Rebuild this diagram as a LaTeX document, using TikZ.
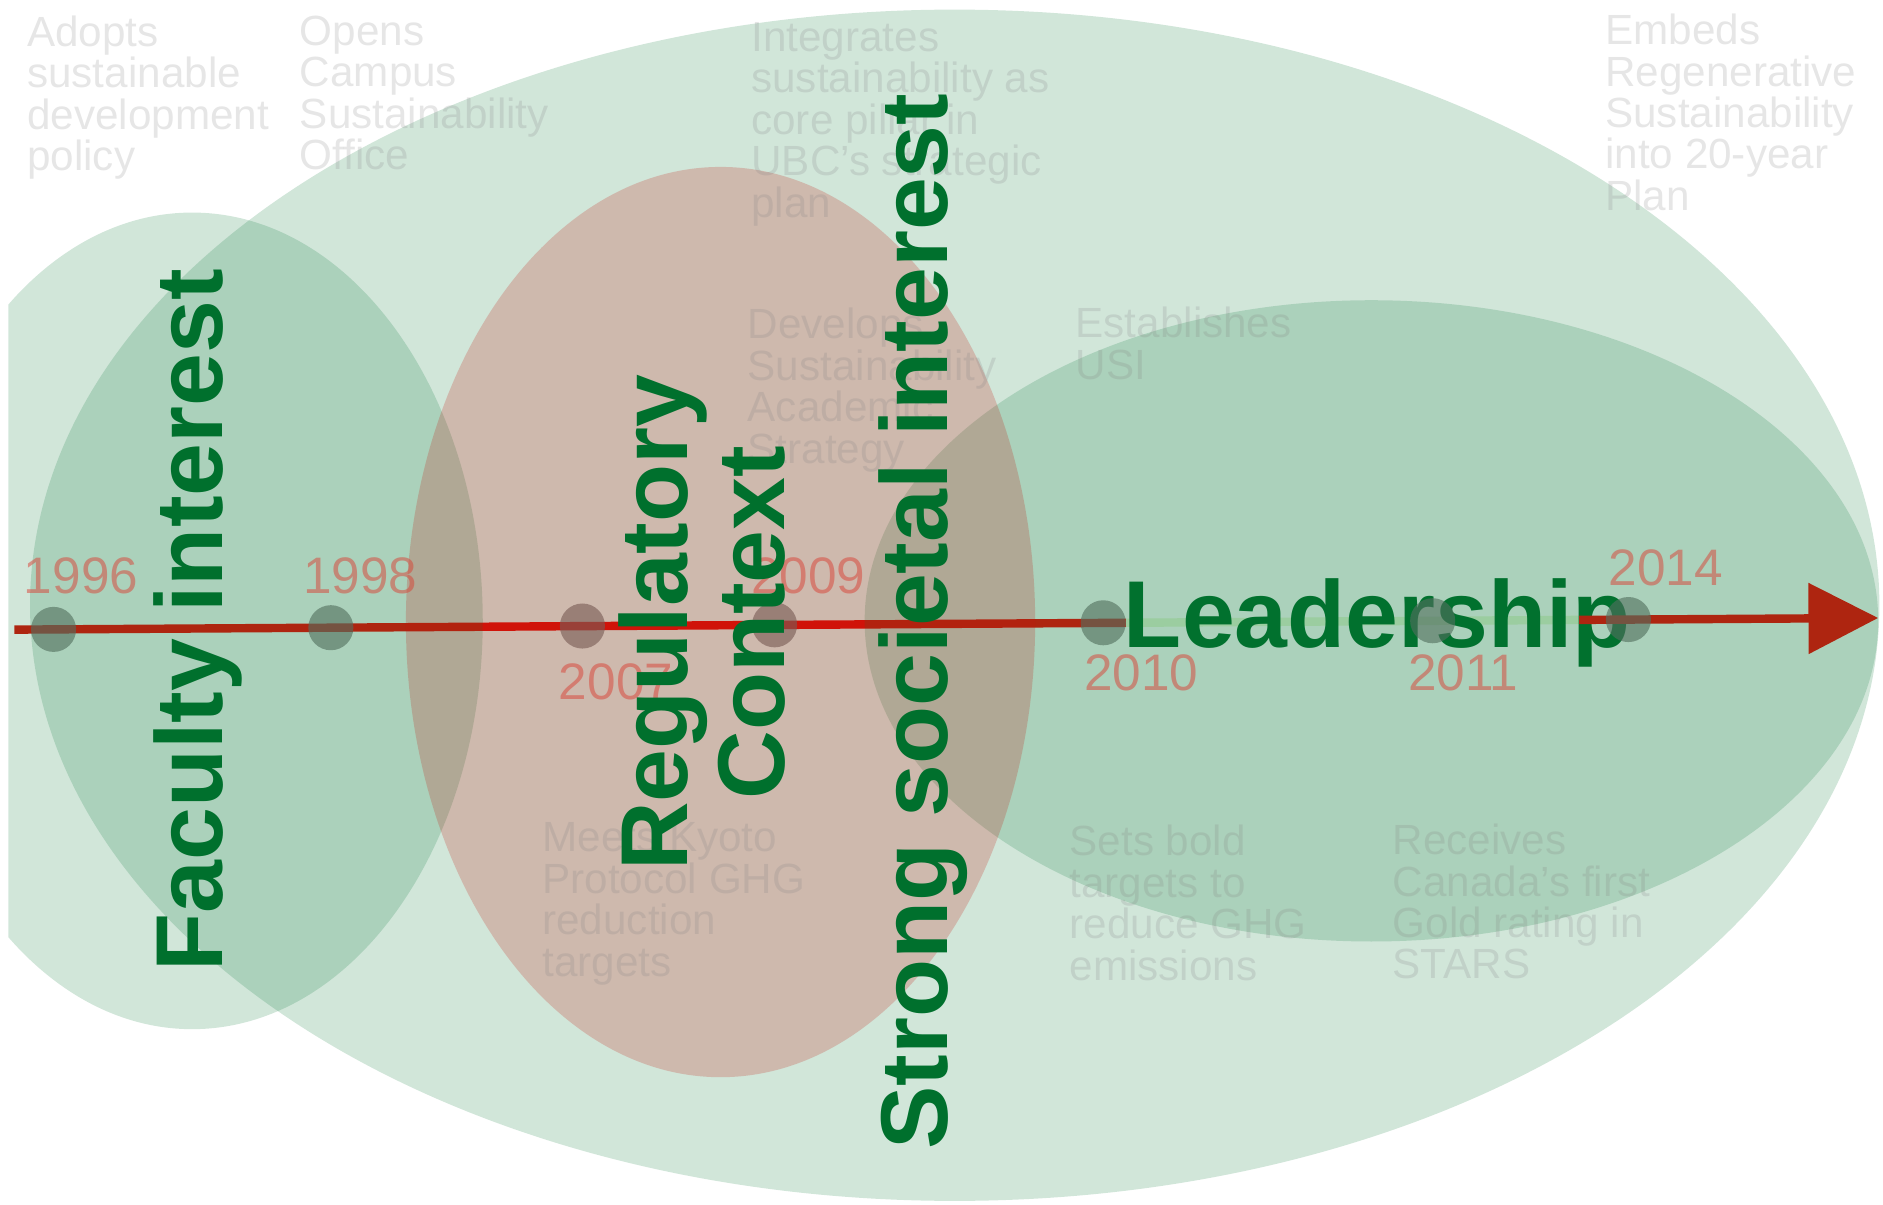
\documentclass[tikz,border=0pt]{standalone}
\usepackage{fontspec}
\setmainfont{Liberation Sans}
\usetikzlibrary{arrows.meta}
\definecolor{zonegreen}{RGB}{10,120,55}
\definecolor{zonered}{RGB}{194,25,14}
\definecolor{linered}{RGB}{213,18,8}
\definecolor{barlight}{RGB}{189,225,185}
\definecolor{dotgray}{RGB}{100,110,105}
\definecolor{labelgreen}{RGB}{0,112,45}
\definecolor{yearred}{RGB}{217,64,52}
\definecolor{eventgray}{RGB}{128,128,128}
\begin{document}
\begin{tikzpicture}[x=0.01cm, y=-0.01cm,
  greenzone/.style={fill=zonegreen, fill opacity=0.19},
  redzone/.style={fill=zonered, fill opacity=0.22},
  timeline/.style={draw=linered, line width=0.07cm},
  greenbar/.style={draw=barlight, line width=0.07cm},
  yeardot/.style={circle, fill=dotgray, fill opacity=0.62, minimum size=0.375cm, inner sep=0pt, outer sep=0pt},
  yearlabel/.style={text=yearred, text opacity=0.5, font=\fontsize{12.15}{14}\selectfont, inner sep=0pt},
  eventtext/.style={text=eventgray, text opacity=0.2, font=\fontsize{10}{9.8}\selectfont, align=left, anchor=north west, inner sep=0pt},
  factor/.style={text=labelgreen, font=\bfseries\fontsize{22.5}{22.8}\selectfont, inner sep=0pt, align=center},
]
\useasboundingbox (0,0) rectangle (1568,1003);
\begin{scope}
\clip (7,0) rectangle (1568,1003);
% outer zone
\fill[greenzone] (795,504) ellipse [x radius=770, y radius=496];
% timeline coordinates
\coordinate (tstart) at (12,524.3);
\coordinate (c1996) at (44.6,524.1);
\coordinate (c1998) at (275.5,522.7);
\coordinate (c2007) at (485,521.3);
\coordinate (c2009) at (645,520.3);
\coordinate (c2010) at (918.7,518.6);
\coordinate (c2011) at (1193,516.9);
\coordinate (c2014) at (1356,515.9);
\coordinate (gend) at (1315,516.2);
\coordinate (ttip) at (1564,514.6);
% timeline
\draw[timeline] (tstart) -- ([xshift=0.1875cm]c2010);
\draw[greenbar] ([xshift=0.1875cm]c2010) -- (gend);
\node[factor] (leadership) at (1147,519) {Leadership};
\draw[timeline, -{Triangle[length=0.58cm, width=0.575cm]}] (gend) -- (ttip);
% dots
\node[yeardot] (d1996) at (c1996) {};
\node[yeardot] (d1998) at (c1998) {};
\node[yeardot] (d2007) at (c2007) {};
\node[yeardot] (d2009) at (c2009) {};
\node[yeardot] (d2010) at (c2010) {};
\node[yeardot] (d2011) at (c2011) {};
\node[yeardot] (d2014) at (c2014) {};
% inner zones
\fill[greenzone] (160,517) ellipse [x radius=242, y radius=340];
\fill[greenzone] (1142,517) ellipse [x radius=422, y radius=267];
\fill[redzone] (600,518) ellipse [x radius=262, y radius=379];
% event texts
\node[eventtext] (e1996) at (22,12.5) {Adopts\\sustainable\\development\\policy};
\node[eventtext] (e1998) at (249,12.5) {Opens\\Campus\\Sustainability\\Office};
\node[eventtext] (e2009a) at (625,18) {Integrates\\sustainability as\\core pillar in\\UBC’s strategic\\plan};
\node[eventtext] (e2014) at (1336,11) {Embeds\\Regenerative\\Sustainability\\into 20-year\\Plan};
\node[eventtext] (e2009b) at (622,256) {Develops\\Sustainability\\Academic\\Strategy};
\node[eventtext] (e2010a) at (895,255) {Establishes\\USI};
\node[eventtext] (e2007) at (451,684.5) {Meets Kyoto\\Protocol GHG\\reduction\\targets};
\node[eventtext] (e2010b) at (890,686.5) {Sets bold\\targets to\\reduce GHG\\emissions};
\node[eventtext] (e2011) at (1159,685.5) {Receives\\Canada’s first\\Gold rating in\\STARS};
% year labels
\node[yearlabel] (y1996) at (67.5,479.5) {1996};
\node[yearlabel] (y1998) at (300,479.5) {1998};
\node[yearlabel] (y2007) at (513,568) {2007};
\node[yearlabel] (y2009) at (673,479.5) {2009};
\node[yearlabel] (y2010) at (950.5,560.5) {2010};
\node[yearlabel] (y2011) at (1218.5,560) {2011};
\node[yearlabel] (y2014) at (1387,472.5) {2014};
% factor labels
\node[factor, rotate=90] (faculty) at (165,516.5) {Faculty interest};
\node[factor, rotate=90] (regulatory) at (584.7,518.5) {Regulatory\\Context};
\node[factor, rotate=90] (societal) at (769,517.5) {Strong societal interest};
\end{scope}
\end{tikzpicture}
\end{document}
